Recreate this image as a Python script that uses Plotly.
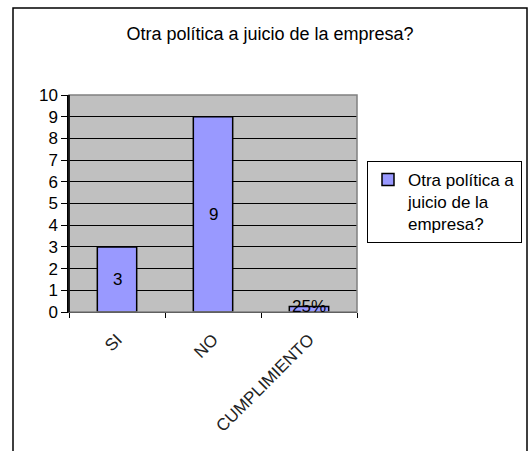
import plotly.graph_objects as go

categories = ["SI", "NO", "CUMPLIMIENTO"]
values = [3, 9, 0.25]
labels = ["3", "9", "25%"]
series_name = "Otra política a<br>juicio de la<br>empresa?"
title_text = "Otra política a juicio de la empresa?"

FONT = "Liberation Sans, Arial, sans-serif"

fig = go.Figure()
fig.add_trace(go.Bar(
    x=categories, y=values, name=series_name,
    marker=dict(color="#9999FF", line=dict(color="#000000", width=1.5)),
    width=0.41, showlegend=True, hoverinfo="skip",
))

annotations = []
for c, v, t in zip(categories, values, labels):
    annotations.append(dict(x=c, y=v / 2 if v >= 1 else v, xref="x", yref="y", text=t,
                            showarrow=False, font=dict(family=FONT, size=17, color="#000"),
                            yanchor="middle"))

fig.update_layout(
    width=529, height=451,
    margin=dict(l=69, r=172, t=95, b=139, autoexpand=False),
    paper_bgcolor="white", plot_bgcolor="#C0C0C0",
    font=dict(family=FONT, size=14, color="#000"),
    title=dict(text=title_text, x=270 / 529, xanchor="center", y=1 - 34 / 451, yanchor="middle",
               font=dict(family=FONT, size=18, color="#000")),
    xaxis=dict(tickangle=-45, ticks="outside", ticklen=5, tickcolor="#000", tickson="boundaries",
               showline=True, linecolor="#000", linewidth=1, showgrid=False,
               ticklabelstandoff=10, automargin=False,
               tickfont=dict(family=FONT, size=17, color="#222")),
    yaxis=dict(range=[0, 10], dtick=1, ticks="outside", ticklen=6, tickcolor="#000",
               showline=True, linecolor="#000", linewidth=1.5, showgrid=True,
               gridcolor="#000", gridwidth=1, zeroline=False, automargin=False,
               tickfont=dict(family=FONT, size=17, color="#000")),
    legend=dict(x=(522 - 69) / 288, y=(312 - 161) / 217, xanchor="right", yanchor="top",
                bordercolor="#000", borderwidth=1, bgcolor="white", valign="top",
                font=dict(family=FONT, size=17, color="#000"), itemwidth=30,
                tracegroupgap=0),
    annotations=annotations,
    shapes=[
        dict(type="rect", xref="paper", yref="paper", x0=0, x1=1, y0=0, y1=1,
             line=dict(color="#808080", width=1.5), layer="above"),
        dict(type="line", xref="paper", yref="paper", x0=0, x1=0, y0=0, y1=1,
             line=dict(color="#000", width=1.5), layer="above"),
        dict(type="rect", xref="paper", yref="paper",
             x0=(13 - 69) / 288, x1=(527 - 69) / 288, y0=-0.7, y1=(312 - 8) / 217,
             line=dict(color="#000", width=1.5)),
    ],
)

fig.write_html("out.html")
